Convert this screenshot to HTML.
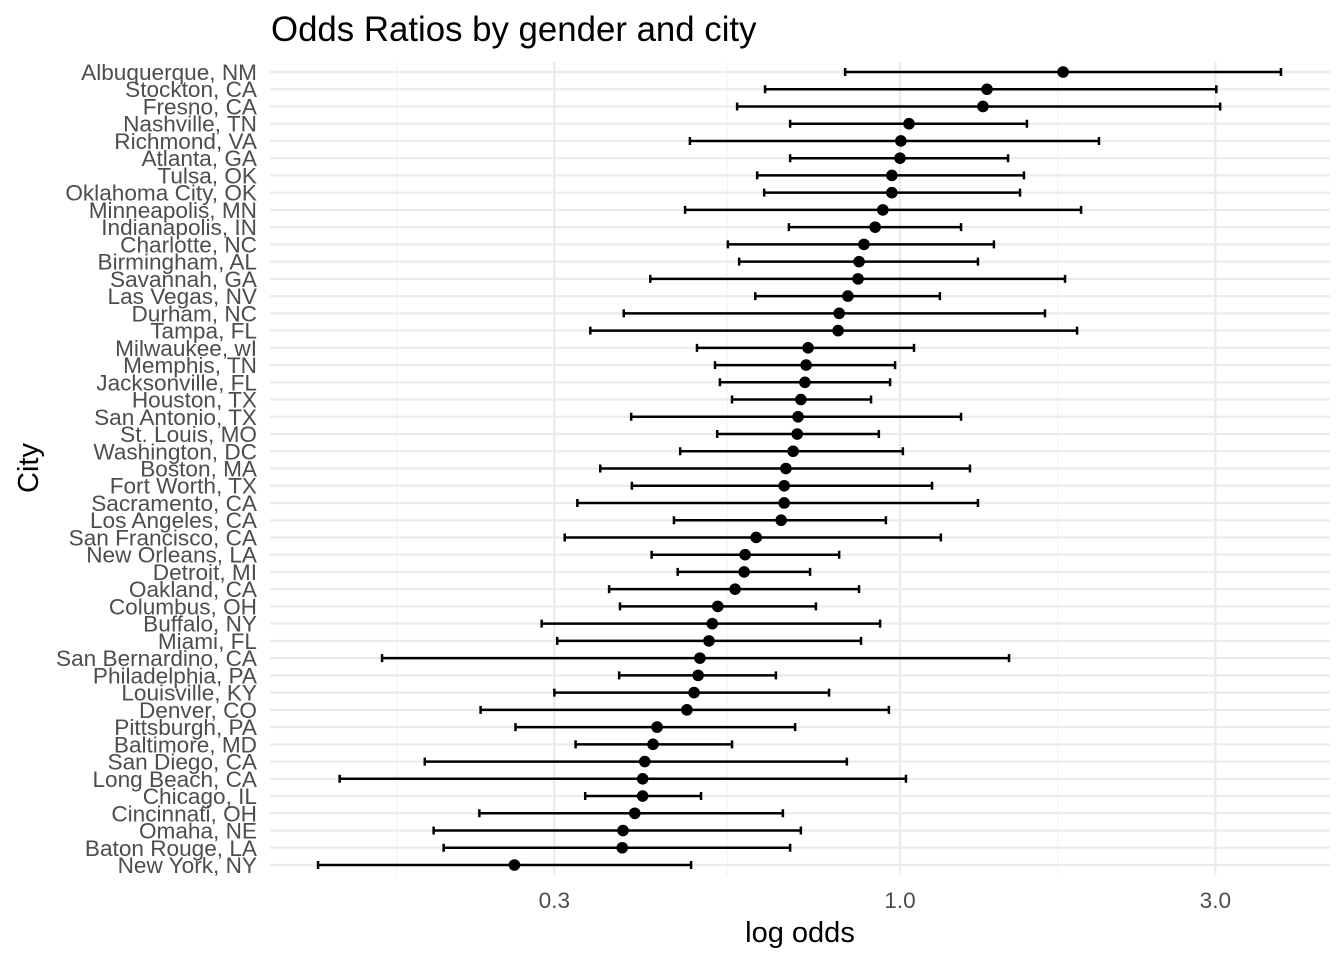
<!DOCTYPE html>
<html><head><meta charset="utf-8"><style>
body{margin:0;background:#fff;}
svg{display:block;font-family:"Liberation Sans",Arial,sans-serif;}
</style></head><body>
<svg id="chart" width="1344" height="960" viewBox="0 0 1344 960">
<rect width="1344" height="960" fill="#fff"/>
<text x="271" y="41" font-size="34.8" fill="#000">Odds Ratios by gender and city</text>
<text transform="translate(38,468) rotate(-90)" text-anchor="middle" font-size="29" fill="#000">City</text>
<text x="800" y="942" text-anchor="middle" font-size="29" fill="#000">log odds</text>
<g id="grid"></g><g id="marks"></g><g id="labels"></g>
</svg>
<script>
const cities=["Albuquerque, NM","Stockton, CA","Fresno, CA","Nashville, TN","Richmond, VA","Atlanta, GA","Tulsa, OK","Oklahoma City, OK","Minneapolis, MN","Indianapolis, IN","Charlotte, NC","Birmingham, AL","Savannah, GA","Las Vegas, NV","Durham, NC","Tampa, FL","Milwaukee, wI","Memphis, TN","Jacksonville, FL","Houston, TX","San Antonio, TX","St. Louis, MO","Washington, DC","Boston, MA","Fort Worth, TX","Sacramento, CA","Los Angeles, CA","San Francisco, CA","New Orleans, LA","Detroit, MI","Oakland, CA","Columbus, OH","Buffalo, NY","Miami, FL","San Bernardino, CA","Philadelphia, PA","Louisville, KY","Denver, CO","Pittsburgh, PA","Baltimore, MD","San Diego, CA","Long Beach, CA","Chicago, IL","Cincinnati, OH","Omaha, NE","Baton Rouge, LA","New York, NY"];
const oddsRatio=[1.765,1.354,1.335,1.032,1.003,1.0,0.972,0.972,0.942,0.917,0.882,0.867,0.864,0.834,0.809,0.806,0.726,0.721,0.718,0.708,0.701,0.699,0.689,0.672,0.668,0.668,0.661,0.606,0.583,0.581,0.563,0.530,0.520,0.514,0.498,0.495,0.488,0.476,0.429,0.423,0.411,0.408,0.408,0.397,0.381,0.380,0.261];
const ciLow=[0.826,0.625,0.567,0.682,0.481,0.682,0.608,0.623,0.473,0.679,0.549,0.571,0.419,0.604,0.382,0.340,0.493,0.525,0.534,0.557,0.392,0.529,0.465,0.352,0.393,0.325,0.455,0.311,0.421,0.461,0.363,0.377,0.287,0.303,0.1646,0.376,0.300,0.232,0.262,0.323,0.191,0.142,0.334,0.231,0.197,0.204,0.1317];
const ciHigh=[3.77,3.01,3.05,1.556,2.0,1.457,1.54,1.519,1.879,1.237,1.387,1.312,1.777,1.149,1.657,1.853,1.05,0.983,0.966,0.904,1.237,0.929,1.01,1.276,1.118,1.312,0.952,1.153,0.809,0.731,0.867,0.746,0.933,0.873,1.462,0.649,0.781,0.962,0.694,0.557,0.831,1.021,0.500,0.665,0.708,0.682,0.483];
const majorTicks=[0.3,1.0,3.0];
const tickLabels=["0.3","1.0","3.0"];
const minorTicks=[0.1732,0.5477,1.732];

const NS="http://www.w3.org/2000/svg";
const X0=270,X1=1330,Y0=62,Y1=875;
function xs(v){return 900+661*Math.log10(v);}
function ys(i){return 72+i*(865-72)/(cities.length-1);}
function mk(tag,attrs,parent){const e=document.createElementNS(NS,tag);for(const k in attrs)e.setAttribute(k,attrs[k]);parent.appendChild(e);return e;}
const grid=document.getElementById('grid'),marks=document.getElementById('marks'),labels=document.getElementById('labels');
minorTicks.forEach(v=>{const l=mk('line',{x1:xs(v),x2:xs(v),y1:Y0,y2:Y1,stroke:'#f2f2f2','stroke-width':1.2},grid);

});
majorTicks.forEach((v,i)=>{const l=mk('line',{x1:xs(v),x2:xs(v),y1:Y0,y2:Y1,stroke:'#ebebeb','stroke-width':2.2},grid);


const t=mk('text',{x:xs(v),y:908,'text-anchor':'middle','font-size':22.6,fill:'#4d4d4d'},labels);t.textContent=tickLabels[i];

});
cities.forEach((c,i)=>{const y=ys(i);
const g=mk('line',{x1:X0,x2:X1,y1:y,y2:y,stroke:'#ebebeb','stroke-width':2.2},grid);


const t=mk('text',{x:257,y:y+8,'text-anchor':'end','font-size':22.6,fill:'#4d4d4d'},labels);t.textContent=c;


const eb=mk('path',{d:`M${xs(ciLow[i])},${y}H${xs(ciHigh[i])}M${xs(ciLow[i])},${y-4}V${y+4}M${xs(ciHigh[i])},${y-4}V${y+4}`,stroke:'#000','stroke-width':2.5,fill:'none'},marks);


const p=mk('circle',{cx:xs(oddsRatio[i]),cy:y,r:5.8,fill:'#000'},marks);

});
</script>
</body></html>
